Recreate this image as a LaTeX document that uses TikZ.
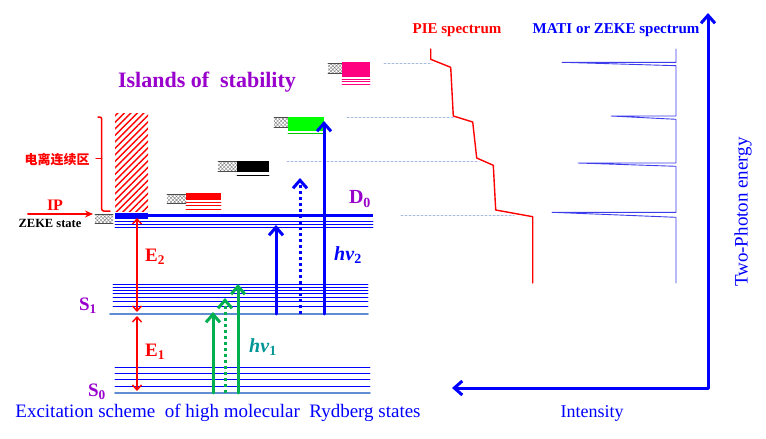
\documentclass[tikz,border=0pt]{standalone}
\usepackage{fontspec}
\setmainfont{Liberation Serif}
\newfontfamily\cjkfont{Noto Sans CJK SC}
\usetikzlibrary{arrows.meta,patterns.meta}
\definecolor{islc}{RGB}{153,0,204}
\definecolor{basec}{RGB}{96,140,210}
\definecolor{guidec}{RGB}{165,185,225}
\definecolor{pumpg}{RGB}{0,176,80}
\definecolor{tealc}{RGB}{0,150,150}
\definecolor{magc}{RGB}{255,0,128}
\definecolor{specc}{RGB}{60,60,235}
\tikzset{
  level/.style={blue,line width=0.8pt},
  base/.style={basec,line width=1.8pt},
  guide/.style={guidec,line width=1pt,dash pattern=on 2pt off 2pt},
  pump/.style={->,line width=3pt},
  dotpump/.style={pump,line cap=butt,dash pattern=on 3pt off 3pt},
  gap/.style={{Straight Barb[length=5pt,width=9pt]}-{Straight Barb[length=5pt,width=9pt]},red,line width=1.4pt},
  xhatch/.style={pattern={Hatch[angle=45,distance=2.6pt,line width=0.4pt]},pattern color=gray},
  lbl/.style={inner sep=0pt,font=\fontsize{19}{21}\selectfont\bfseries},
}
\begin{document}
\begin{tikzpicture}[x=1pt,y=-1pt,>={Straight Barb[length=8pt,width=14pt]},line join=round,line cap=round]
\useasboundingbox (0,0) rectangle (766,439);
% coordinates of the arrows
\path (137,218) coordinate (e2t) (137,312) coordinate (e2b)
      (137,316) coordinate (e1t) (137,391) coordinate (e1b)
      (213,393) coordinate (g1) (213,312) coordinate (g1e)
      (225,393) coordinate (g2) (225,298) coordinate (g2e)
      (238,393) coordinate (g3) (238,284) coordinate (g3e)
      (276,314) coordinate (b1) (276,225) coordinate (b1e)
      (300,314) coordinate (b2) (300,178) coordinate (b2e)
      (324,314) coordinate (b3) (324,121) coordinate (b3e)
      (28,214) coordinate (ipa) (93,214) coordinate (ipb)
      (452,388) coordinate (axx) (708,388) coordinate (axo) (708,13) coordinate (axy)
      ;
% S0 and S1 levels
\foreach \y in {367,373,379,386}
  \draw[level] (115,\y)--(370,\y);
\draw[base] (115,393)--(370,393);
\foreach \y in {284,287,290,293,297,301,306}
  \draw[level] (113,\y)--(368,\y);
\draw[base] (110,314)--(368,314);
% D0 band
\foreach \y in {221,224,227}
  \draw[level] (115,\y)--(373,\y);
\draw[blue,line width=3.6pt,line cap=butt] (115,215.5)--(373,215.5);
\fill[blue] (115,212.5) rectangle (148,218.5);
\fill[xhatch] (95,214) rectangle (113,223);
\draw[black!70,line width=0.7pt] (95,214)--(113,214) (95,223)--(113,223);
% ionisation continuum
\fill[pattern={Lines[angle=45,distance=4.6pt,line width=1.5pt]},pattern color=red] (115,113) rectangle (148,211);
\draw[red,line width=1.5pt,rounded corners=2pt] (98,117)--(101.7,117)--(101.7,211)--(110,211);
\draw[red,line width=1.5pt] (96,158.3)--(101.7,158.3);
\node[red,inner sep=0pt,font=\cjkfont\fontsize{13}{15}\selectfont\bfseries] (cont) at (57,159.5) {电离连续区};
\draw[red,line width=2pt,-{Stealth[length=8pt,width=7pt]}] (ipa)--(ipb);
\node[red,lbl,font=\fontsize{16}{18}\selectfont\bfseries] (ip) at (55,205) {IP};
\node[inner sep=0pt,font=\fontsize{12.5}{14}\selectfont\bfseries] (zeke) at (50,223) {ZEKE state};
% islands of stability
\fill[xhatch] (167,194) rectangle (186,203);
\draw[black!70,line width=0.7pt] (167,194)--(186,194) (167,203)--(186,203);
\fill[red] (186,193) rectangle (221,200);
\foreach \y in {202.5,205.5,209}
  \draw[red,line width=0.8pt] (186,\y)--(221,\y);
\fill[xhatch] (218,161) rectangle (237,171);
\draw[black!70,line width=0.7pt] (218,161)--(237,161) (218,171)--(237,171);
\fill[black] (237,161) rectangle (269,172);
\draw[black,line width=0.8pt] (237,175)--(269,175);
\fill[xhatch] (274,117) rectangle (288,127);
\draw[black!70,line width=0.7pt] (274,117)--(288,117) (274,127)--(288,127);
\fill[green] (288,117) rectangle (324,131);
\draw[green!80!black,line width=0.8pt] (288,133.5)--(324,133.5);
\fill[xhatch] (328,63) rectangle (342,73);
\draw[black!70,line width=0.7pt] (328,63)--(342,63) (328,73)--(342,73);
\fill[magc] (342,62) rectangle (370,77);
\foreach \y in {79.5,81.7,83.9}
  \draw[magc,line width=0.7pt] (342,\y)--(370,\y);
% dashed guides to the spectra
\draw[guide] (384,63)--(432,63);
\draw[guide] (347,117.5)--(453,117.5);
\draw[guide] (287,161.7)--(479,161.7);
\draw[guide] (401,215)--(514,215);
% spectra
\draw[red,line width=1.4pt] (430.7,49)--(430.7,59.3)--(450.7,67.3)--(453.3,116)--(472.7,122)--(476.7,158)
  --(493.3,165.3)--(495.7,210)--(532.7,216.7)--(532.7,283);
\draw[specc,line width=0.9pt] (676,49)--(676,62.3)--(562,62.3)--(676,65.7)--(676,116)--(611,116)--(676,119.3)
  --(676,163)--(578,163)--(676,166.3)--(676,212.3)--(552,212.3)--(676,217.3)--(676,283);
% transitions
\draw[gap] (e2t)--(e2b);
\draw[gap] (e1t)--(e1b);
\draw[pump,pumpg] (g1)--(g1e);
\draw[dotpump,pumpg] (g2)--(g2e);
\draw[pump,pumpg] (g3)--(g3e);
\draw[pump,blue] (b1)--(b1e);
\draw[dotpump,blue] (b2)--(b2e);
\draw[pump,blue] (b3)--(b3e);
\draw[blue,line width=3pt,<->] (axx)--(axo)--(axy);
% labels
\node[lbl,red] (e2) at (155,257) {E\textsubscript{2}};
\node[lbl,red] (e1) at (155,352) {E\textsubscript{1}};
\node[lbl,islc] (s1) at (88,306) {S\textsubscript{1}};
\node[lbl,islc] (s0) at (97,392) {S\textsubscript{0}};
\node[lbl,islc,font=\fontsize{20}{22}\selectfont\bfseries] (d0) at (360,199) {D\textsubscript{0}};
\node[lbl,blue,font=\fontsize{20}{22}\selectfont\bfseries] (hv2) at (348,255) {\textit{hν}\textsubscript{2}};
\node[lbl,tealc,font=\fontsize{20}{22}\selectfont\bfseries] (hv1) at (263,347) {\textit{hν}\textsubscript{1}};
\node[lbl,islc,font=\fontsize{22}{24}\selectfont\bfseries] (isl) at (207,82) {Islands of~ stability};
\node[inner sep=0pt,blue,font=\fontsize{19}{21}\selectfont] (scheme) at (218,413) {Excitation scheme~ of high molecular~ Rydberg states};
\node[inner sep=0pt,blue,font=\fontsize{18}{20}\selectfont] (int) at (592,413) {Intensity};
\node[inner sep=0pt,red,font=\fontsize{15}{17}\selectfont\bfseries] (pie) at (457,30) {PIE spectrum};
\node[inner sep=0pt,blue,font=\fontsize{15}{17}\selectfont\bfseries] (mati) at (616,30) {MATI or ZEKE spectrum};
\node[inner sep=0pt,blue,rotate=90,font=\fontsize{19}{21}\selectfont] (tpe) at (743,212) {Two-Photon energy};
\end{tikzpicture}
\end{document}
